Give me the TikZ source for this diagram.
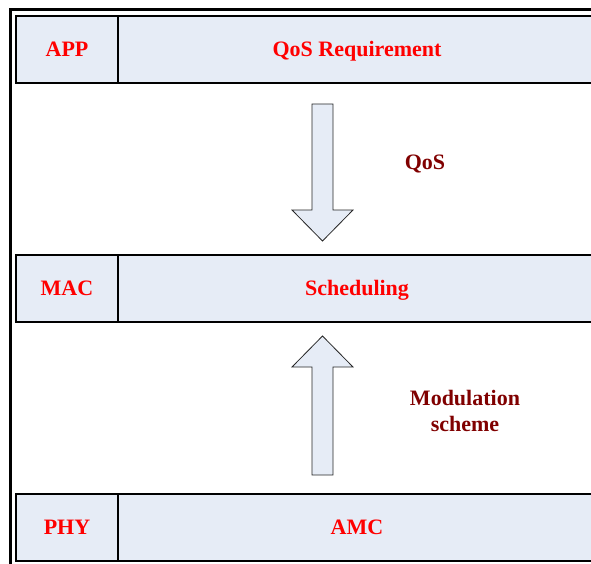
\documentclass[tikz,border=0pt]{standalone}
\usepackage{fontspec}
\setmainfont{Liberation Serif}
\definecolor{cellfill}{RGB}{230,236,246}
\definecolor{darkred}{RGB}{128,0,0}
\tikzset{
  layer/.style={draw=black,line width=2.5pt,fill=cellfill,minimum height=67pt,inner sep=0pt,
    outer sep=0pt,text height=14.6pt,text depth=0pt,text=red,font=\fontsize{22}{26}\selectfont\bfseries},
  name cell/.style={layer,minimum width=102pt},
  func cell/.style={layer,minimum width=478pt,anchor=west},
  bigarrow/.style={draw=black!85,line width=0.8pt,fill=cellfill},
  arrowlabel/.style={text=darkred,align=center,font=\fontsize{22}{26}\selectfont\bfseries}
}
\begin{document}
\begin{tikzpicture}[x=1pt,y=-1pt]
 \useasboundingbox (0,0) rectangle (591,564);
 \draw[line width=3pt] (10,10) rectangle (620,600);
 \node[name cell] (app) at (67,49.5) {APP};
 \node[func cell] (qosreq) at (app.east) {QoS Requirement};
 \node[name cell] (mac) at (67,288.5) {MAC};
 \node[func cell] (sched) at (mac.east) {Scheduling};
 \node[name cell] (phy) at (67,527.5) {PHY};
 \node[func cell] (amc) at (phy.east) {AMC};
 \draw[bigarrow] (312,104) -- (333,104) -- (333,210) -- (353,210) -- (322.5,241)
   -- (292,210) -- (312,210) -- cycle;
 \draw[bigarrow] (322.5,336) -- (353,367) -- (333,367) -- (333,475) -- (312,475)
   -- (312,367) -- (292,367) -- cycle;
 \node[arrowlabel] (qos) at (425,164) {QoS};
 \node[arrowlabel] (mod) at (465,411) {Modulation\\scheme};
\end{tikzpicture}
\end{document}
